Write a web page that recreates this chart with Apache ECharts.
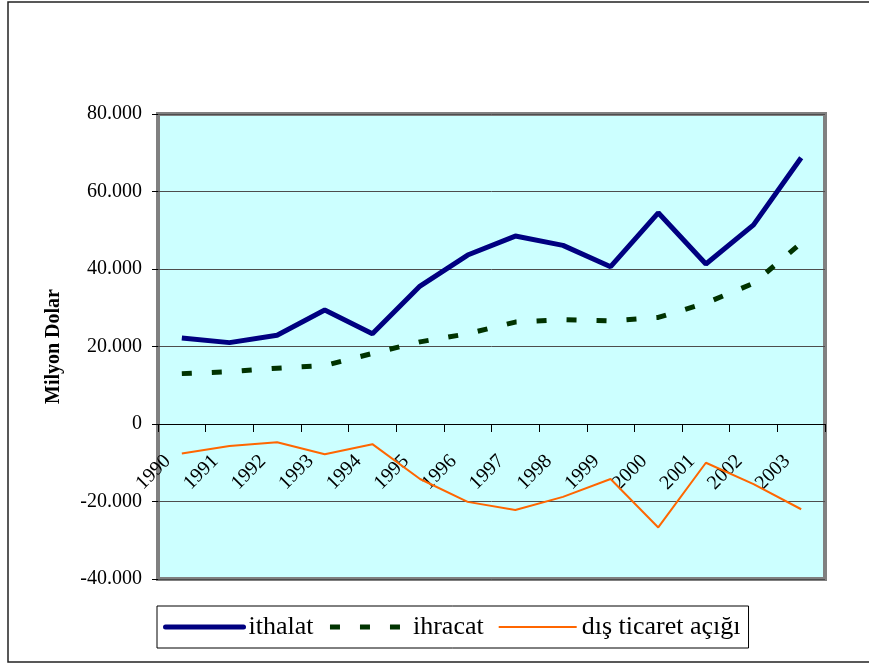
<!DOCTYPE html>
<html>
<head>
<meta charset="utf-8">
<script src="https://cdn.jsdelivr.net/npm/echarts@6/dist/echarts.min.js"></script>
<style>
	body { margin: 0; background: #fff; }
	#main { width: 869px; height: 664px; }
</style>
</head>
<body>
<div id="main"></div>
<script>
var years = ['1990', '1991', '1992', '1993', '1994', '1995', '1996', '1997', '1998', '1999', '2000', '2001', '2002', '2003'];
var ithalat = [22200, 21000, 22900, 29400, 23300, 35600, 43600, 48500, 46100, 40600, 54500, 41300, 51400, 68700];
var ihracat = [13000, 13500, 14400, 15100, 18200, 21200, 23300, 26300, 26900, 26600, 27500, 31200, 36300, 46700];
var acik = [-7600, -5700, -4700, -7800, -5200, -14200, -20100, -22200, -18800, -14200, -26700, -10000, -15500, -22000];
var seriesNames = ['ithalat', 'ihracat', 'dış ticaret açığı'];

var serif = "'Liberation Serif', 'Times New Roman', serif";

function drawChart(divId) {
	var chart = echarts.init(document.getElementById(divId));

	chart.setOption({
		animation : false,
		graphic : [ {
			type : 'rect',
			shape : { x : 8, y : 2, width : 900, height : 660 },
			style : { fill : 'none', stroke : '#222', lineWidth : 1.5 },
			silent : true
		} ],
		grid : {
			left : 158,
			right : 44,
			top : 114,
			bottom : 85,
			show : true,
			backgroundColor : '#CCFFFF',
			borderColor : '#808080',
			borderWidth : 4
		},
		legend : {
			data : [
				{ name : seriesNames[0], lineStyle : { width : 5, cap : 'round' } },
				{ name : seriesNames[1], lineStyle : { width : 5 } },
				{ name : seriesNames[2], lineStyle : { width : 2 } }
			],
			left : 157,
			top : 606,
			padding : [ 6, 8, 6, 6 ],
			itemWidth : 78,
			itemHeight : 14,
			itemGap : 14,
			itemStyle : { opacity : 0 },
			borderColor : '#000',
			borderWidth : 1,
			backgroundColor : '#fff',
			textStyle : {
				fontFamily : serif,
				fontSize : 26,
				color : '#000',
				lineHeight : 30
			}
		},
		xAxis : {
			type : 'category',
			data : years,
			offset : -155, // Excel puts the category axis on the zero line
			axisLine : { onZero : false, lineStyle : { color : '#000', width : 1 } },
			axisTick : { show : true, length : 8, lineStyle : { color : '#000' } },
			axisLabel : {
				interval : 0,
				rotate : 45,
				margin : 20,
				padding : [ 0, 20, 0, 0 ],
				fontFamily : serif,
				fontSize : 20,
				color : '#000'
			},
			splitLine : { show : false }
		},
		yAxis : {
			type : 'value',
			min : -40000,
			max : 80000,
			interval : 20000,
			name : 'Milyon Dolar',
			nameLocation : 'middle',
			nameRotate : 90,
			nameGap : 94,
			nameTextStyle : {
				fontFamily : serif,
				fontSize : 20,
				fontWeight : 'bold',
				color : '#000'
			},
			axisLine : { show : false },
			axisTick : { show : true, length : 6, lineStyle : { color : '#000' } },
			axisLabel : {
				margin : 16,
				fontFamily : serif,
				fontSize : 20,
				color : '#000',
				formatter : function(v) {
					return v.toLocaleString('de-DE');
				}
			},
			splitLine : { show : true, lineStyle : { color : '#4d4d4d', width : 1 } }
		},
		series : [ {
			name : seriesNames[0],
			type : 'line',
			data : ithalat,
			symbol : 'none',
			color : '#000080',
			lineStyle : { color : '#000080', width : 5 }
		}, {
			name : seriesNames[1],
			type : 'line',
			data : ihracat,
			symbol : 'none',
			color : '#003300',
			lineStyle : { color : '#003300', width : 5, type : [ 10, 20 ], cap : 'butt' }
		}, {
			name : seriesNames[2],
			type : 'line',
			data : acik,
			symbol : 'none',
			color : '#FF6600',
			lineStyle : { color : '#FF6600', width : 2 }
		} ]
	});

	return chart;
}

drawChart('main');
</script>
</body>
</html>
